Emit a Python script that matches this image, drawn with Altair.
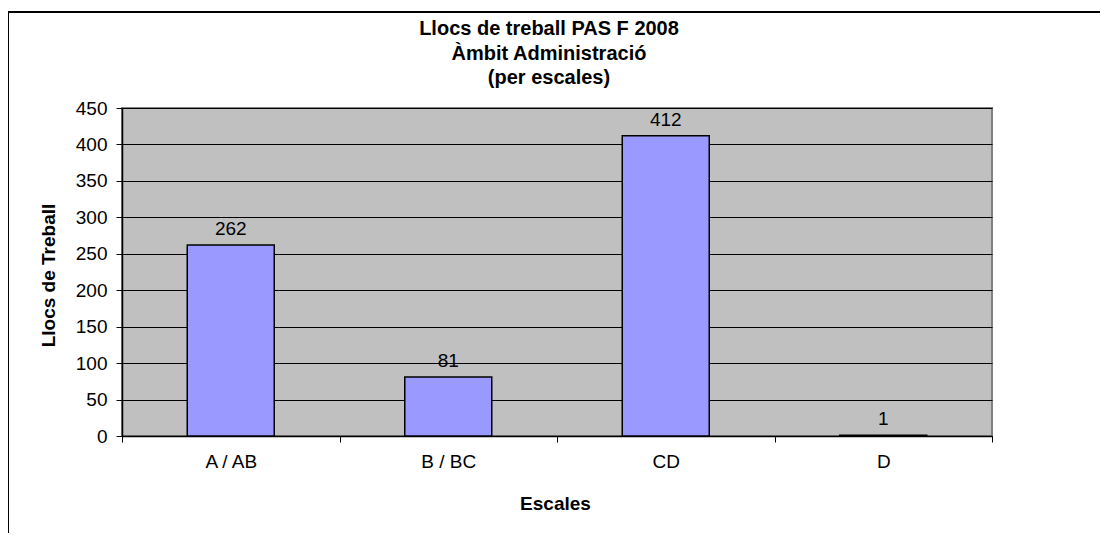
import altair as alt
import pandas as pd

categories = ["A / AB", "B / BC", "CD", "D"]
values = [262, 81, 412, 1]
title_lines = ["Llocs de treball PAS F 2008", "Àmbit Administració", "(per escales)"]
y_ticks = [0, 50, 100, 150, 200, 250, 300, 350, 400, 450]

df = pd.DataFrame({"Escala": categories, "Llocs": values})

FONT = "Liberation Sans"
W, H = 870, 328

x_enc = alt.X(
    "Escala:N",
    sort=categories,
    scale=alt.Scale(paddingInner=0, paddingOuter=0),
    axis=alt.Axis(
        title="Escales",
        labelAngle=0,
        tickBand="extent",
        grid=False,
        domainColor="black",
        domainWidth=1.5,
        tickColor="black",
        tickSize=6,
        labelPadding=10,
        labelFontSize=19,
        labelFont=FONT,
        labelColor="black",
        titleFontSize=19,
        titleFont=FONT,
        titleFontWeight="bold",
        titleColor="black",
        titleX=433,
        titleY=67,
        titleBaseline="middle",
    ),
)

y_enc = alt.Y(
    "Llocs:Q",
    scale=alt.Scale(domain=[0, 450], nice=False),
    axis=alt.Axis(
        title="Llocs de Treball",
        values=y_ticks,
        grid=True,
        gridColor="black",
        gridWidth=1,
        domainColor="black",
        domainWidth=1.5,
        tickColor="black",
        tickSize=6,
        labelPadding=9,
        labelFontSize=19,
        labelFont=FONT,
        labelColor="black",
        titleFontSize=19,
        titleFont=FONT,
        titleFontWeight="bold",
        titleColor="black",
        titleX=-74,
        titleY=167,
        titleBaseline="middle",
    ),
)

bars = alt.Chart(df).mark_bar(
    color="#9999FF", stroke="black", strokeWidth=1.5,
    width=alt.RelativeBandSize(0.4),
).encode(x=x_enc, y=y_enc)

labels = alt.Chart(df).mark_text(
    baseline="alphabetic", dy=-10, fontSize=19, font=FONT, color="black"
).encode(
    x=x_enc,
    y=y_enc,
    text=alt.Text("Llocs:Q"),
)

frame = alt.Chart(df).mark_rect(
    fill=None, stroke="black", strokeWidth=2, clip=False
).encode(
    x=alt.value(-114), x2=alt.value(W + 400),
    y=alt.value(-96), y2=alt.value(H + 300),
)

chart = alt.layer(frame, bars, labels).properties(
    width=W,
    height=H,
    title=alt.TitleParams(
        text=title_lines,
        fontSize=20,
        font=FONT,
        fontWeight="bold",
        color="black",
        anchor="middle",
        lineHeight=24.5,
        baseline="alphabetic",
        offset=0,
        dy=93,
        dx=-8,
    ),
    padding={"left": 114, "top": 100, "right": 108, "bottom": 97},
    autosize=alt.AutoSizeParams(type="none"),
).configure(
    background="white"
).configure_view(
    fill="#C0C0C0", stroke="#808080", strokeWidth=2
)

chart.save("out.html", embed_options={"renderer": "svg", "actions": False})
